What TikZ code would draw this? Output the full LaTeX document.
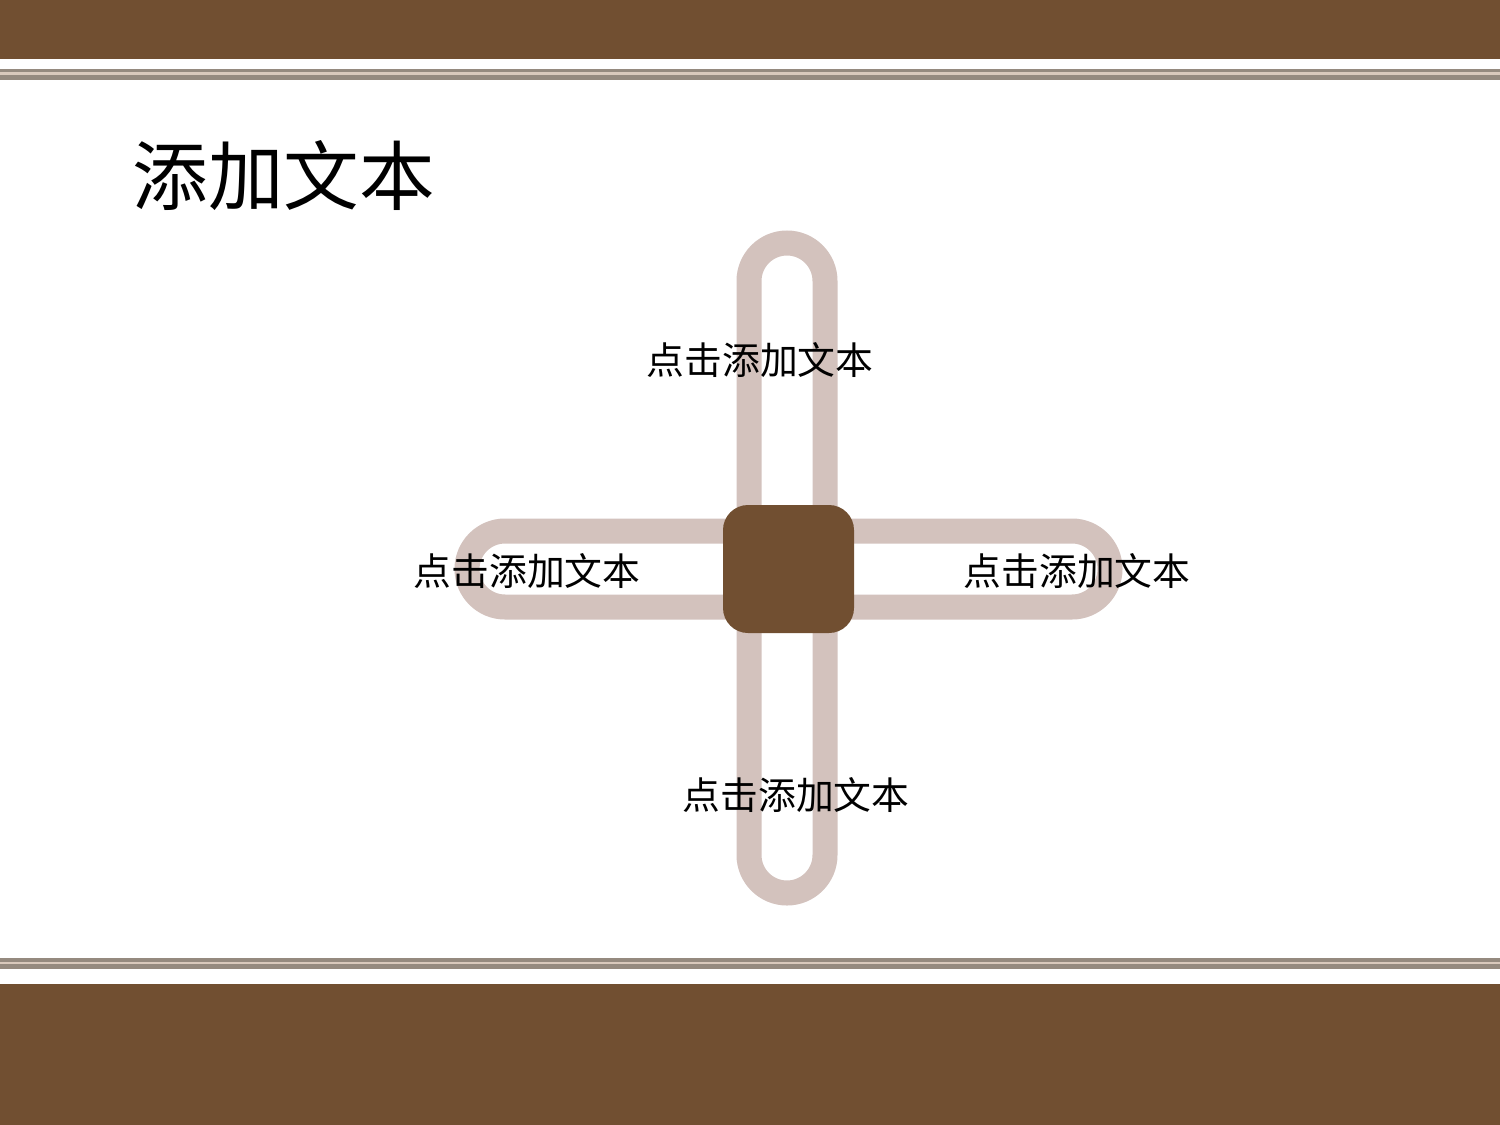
\documentclass[tikz,border=0pt]{standalone}
\usepackage{fontspec}
\setmainfont{Noto Sans CJK SC}
\usetikzlibrary{positioning}
\definecolor{barbrown}{HTML}{714F31}
\definecolor{ringpink}{HTML}{D3C2BD}
\definecolor{rulegrey}{HTML}{958A7F}
\definecolor{rulelight}{HTML}{D9C9BC}
\tikzstyle{bar} = [fill=barbrown, draw=none]
\tikzstyle{ringpath} = [draw=ringpink, line width=12.5pt, rounded corners=19pt]
\tikzstyle{hubbox} = [fill=barbrown, draw=none, rounded corners=12.5pt, minimum width=65.5pt, minimum height=64pt, inner sep=0pt]
\tikzstyle{caption} = [font=\fontsize{18.9}{22}\selectfont, inner sep=0pt]

\begin{document}
\begin{tikzpicture} [x=0.5pt, y=-0.5pt]

        \useasboundingbox (0,0) rectangle (1500,1125);

        % bands and rules
        \path[bar] (0,0) rectangle (1500,59);
        \path[fill=rulegrey] (0,69) rectangle (1500,80);
        \path[fill=rulelight] (0,71.5) rectangle (1500,74.5);
        \path[fill=rulegrey] (0,958) rectangle (1500,969);
        \path[fill=rulelight] (0,962) rectangle (1500,964);
        \path[bar] (0,984) rectangle (1500,1125);

        \node[font=\fontsize{37.8}{44}\selectfont, inner sep=0pt, anchor=west] (title) at (132,176) {添加文本};

        % the two rings
        \draw[ringpath] (749,243) rectangle (825,893);
        \draw[ringpath] (467,531) rectangle (1110,607);

        \node[hubbox] (hub) at (788.5,569) {};

        \node[caption] (northtext) at (760,360) {点击添加文本};
        \node[caption] (westtext) at (527,571) {点击添加文本};
        \node[caption] (easttext) at (1077,571) {点击添加文本};
        \node[caption] (southtext) at (796,795) {点击添加文本};

\end{tikzpicture}
\end{document}
